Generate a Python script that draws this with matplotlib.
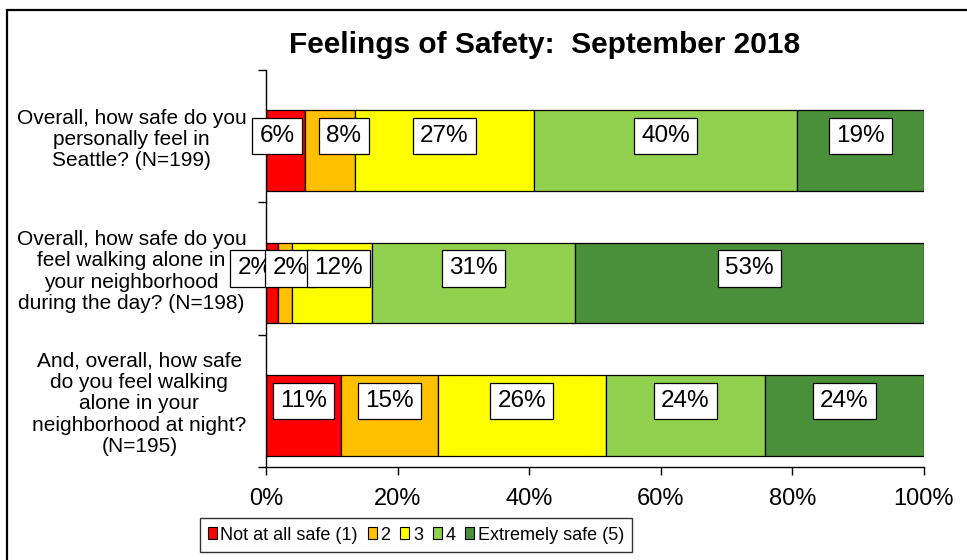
import matplotlib.pyplot as plt
import matplotlib.patches as mpatches
import numpy as np

# === Daten ===
questions = [
    "Overall, how safe do you\npersonally feel in\nSeattle? (N=199)",
    "Overall, how safe do you\nfeel walking alone in\nyour neighborhood\nduring the day? (N=198)",
    "And, overall, how safe\ndo you feel walking\nalone in your\nneighborhood at night?\n(N=195)",
]
series_names = ["Not at all safe (1)", "2", "3", "4", "Extremely safe (5)"]
not_safe = [5.9, 1.8, 11.4]
level_2 = [7.6, 2.1, 14.7]
level_3 = [27.2, 12.2, 25.5]
level_4 = [40.0, 30.9, 24.2]
extremely_safe = [19.3, 53.0, 24.2]
value_labels = [
    ["6%", "8%", "27%", "40%", "19%"],
    ["2%", "2%", "12%", "31%", "53%"],
    ["11%", "15%", "26%", "24%", "24%"],
]
x_ticks = [0, 20, 40, 60, 80, 100]

# === Stil ===
colors = ["#FF0000", "#FFC000", "#FFFF00", "#92D050", "#4A8F3A"]
bar_height = 0.61
bar_shift = 0.11
# manuelle Verschiebung der Datenbeschriftungen (Punkte)
label_nudge = [
    [-6, 10, 0, 0, 0],
    [-12, 4, 5, 0, 0],
    [0, 0, 0, 0, 0],
]

plt.rcParams["font.family"] = ["Liberation Sans", "DejaVu Sans"]

fig = plt.figure(figsize=(9.67, 5.60), dpi=100)
ax = fig.add_axes([266 / 967, 1 - 467 / 560, 658 / 967, 397 / 560])

series = [not_safe, level_2, level_3, level_4, extremely_safe]
y = np.arange(len(questions))
left = np.zeros(len(questions))

for k, vals in enumerate(series):
    vals = np.array(vals)
    ax.barh(y + bar_shift, vals, left=left, height=bar_height,
            color=colors[k], edgecolor="black", linewidth=0.9,
            label=series_names[k], zorder=2)
    left = left + vals

# Datenbeschriftungen
left = np.zeros(len(questions))
for k, vals in enumerate(series):
    for i, v in enumerate(vals):
        ax.annotate(value_labels[i][k], (left[i] + v / 2, y[i]),
                    xytext=(label_nudge[i][k], 0), textcoords="offset points",
                    ha="center", va="center", fontsize=17.5, zorder=3,
                    bbox=dict(boxstyle="square,pad=0.3", fc="white",
                              ec="black", lw=0.9))
    left = left + np.array(vals)

ax.set_xlim(0, 100)
ax.set_ylim(len(questions) - 0.5, -0.5)
ax.set_xticks(x_ticks)
ax.set_xticklabels([f"{t}%" for t in x_ticks], fontsize=17)
ax.tick_params(axis="x", direction="out", length=6, width=1, pad=9)

ax.set_yticks(np.arange(len(questions) + 1) - 0.5)
ax.set_yticklabels([])
ax.set_yticks(y, minor=True)
ax.set_yticklabels(questions, minor=True, fontsize=15, ha="right",
                   multialignment="center", linespacing=1.15)
ax.tick_params(axis="y", which="major", direction="out", length=6, width=1)
ax.tick_params(axis="y", which="minor", length=0, pad=14)

for s in ["top", "right"]:
    ax.spines[s].set_visible(False)
for s in ["left", "bottom"]:
    ax.spines[s].set_linewidth(1)
    ax.spines[s].set_color("black")

fig.text(545 / 967, 1 - 45 / 560, "Feelings of Safety:  September 2018",
         ha="center", va="center", fontsize=21.5, fontweight="bold")

handles = [mpatches.Patch(facecolor=c, edgecolor="black", linewidth=0.8)
           for c in colors]
leg = fig.legend(handles, series_names, loc="center",
                 bbox_to_anchor=(416 / 967, 1 - 535 / 560), ncol=5,
                 fontsize=13, frameon=True, fancybox=False,
                 handlelength=0.5, handleheight=0.6, handletextpad=0.2,
                 columnspacing=0.55, borderpad=0.45, borderaxespad=0)
leg.get_frame().set_edgecolor("black")
leg.get_frame().set_linewidth(1)

# Rahmen um die Grafik
fig.add_artist(mpatches.Rectangle((7 / 967, -0.1), 1.1, 1 - 10 / 560 + 0.1,
                                  transform=fig.transFigure, fill=False,
                                  edgecolor="black", linewidth=1.6))

plt.savefig("out.png", dpi=100)
